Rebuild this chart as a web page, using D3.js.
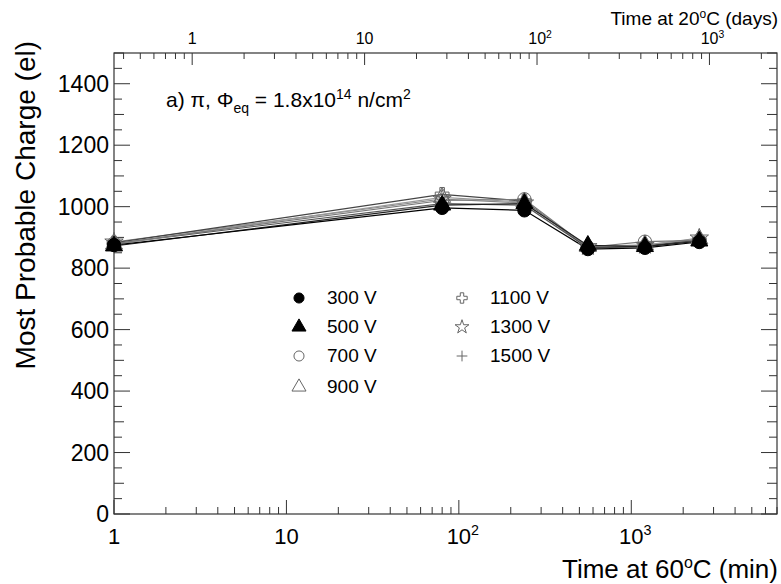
<!DOCTYPE html>
<html>
<head>
<meta charset="utf-8">
<script src="https://cdn.jsdelivr.net/npm/d3@7"></script>
<style>
  body { margin: 0; background: #fff; }
  svg { font-family: "Liberation Sans", Arial, Helvetica, sans-serif; }
</style>
</head>
<body>
<div id="chart"></div>
<script>
// annealing time at 60C (min), first point = before annealing (drawn at 1)
const times = [1, 80, 240, 560, 1200, 2480];
const voltages = ["300 V", "500 V", "700 V", "900 V", "1100 V", "1300 V", "1500 V"];
const mpv300 = [875, 996, 988, 862, 866, 885];
const mpv500 = [872, 1005, 1010, 874, 870, 888];
const mpv700 = [880, 1020, 1024, 868, 886, 890];
const mpv900 = [878, 1030, 1015, 870, 876, 895];
const mpv1100 = [882, 1040, 1018, 866, 872, 892];
const mpv1300 = [885, 1025, 1012, 870, 874, 898];
const mpv1500 = [880, 1010, 1005, 866, 870, 893];
const xDomain = [1, 7000];
const daysDomain = [0.352, 2465];
const yDomain = [0, 1500];
const yTicks = [0, 200, 400, 600, 800, 1000, 1200, 1400];

const width = 781, height = 584;
const margin = {left: 114, right: 4, top: 53, bottom: 70};

var svg = d3.select("#chart").append("svg")
  .attr("width", width).attr("height", height);

var x = d3.scaleLog().domain(xDomain).range([margin.left, width - margin.right]);
var xTop = d3.scaleLog().domain(daysDomain).range([margin.left, width - margin.right]);
var y = d3.scaleLinear().domain(yDomain).range([height - margin.bottom, margin.top]);

var x0 = margin.left, x1 = width - margin.right;
var y0 = height - margin.bottom, y1 = margin.top;

// frame
svg.append("rect")
  .attr("x", x0).attr("y", y1)
  .attr("width", x1 - x0).attr("height", y0 - y1)
  .attr("fill", "none").attr("stroke", "#333").attr("stroke-width", 1.2);

// log ticks helper
function logTicks(scale) {
  var d = scale.domain(), out = [];
  for (var e = Math.floor(Math.log10(d[0])); e <= Math.ceil(Math.log10(d[1])); e++) {
    for (var m = 1; m < 10; m++) {
      var v = m * Math.pow(10, e);
      if (v >= d[0] && v <= d[1]) out.push({v: v, major: m == 1, e: e});
    }
  }
  return out;
}

var axes = svg.append("g").attr("stroke", "#333").attr("stroke-width", 1);

// bottom axis ticks (inward)
logTicks(x).forEach(function(t) {
  axes.append("line")
    .attr("x1", x(t.v)).attr("x2", x(t.v))
    .attr("y1", y0).attr("y2", y0 - (t.major ? 14 : 7));
});
// top axis ticks (days)
logTicks(xTop).forEach(function(t) {
  axes.append("line")
    .attr("x1", xTop(t.v)).attr("x2", xTop(t.v))
    .attr("y1", y1).attr("y2", y1 + (t.major ? 12 : 6));
});
// y ticks left and right
d3.range(0, 1501, 50).forEach(function(v) {
  var len = v % 200 == 0 ? 16 : (v % 100 == 0 ? 10 : 8);
  axes.append("line").attr("x1", x0).attr("x2", x0 + len).attr("y1", y(v)).attr("y2", y(v));
  axes.append("line").attr("x1", x1).attr("x2", x1 - len).attr("y1", y(v)).attr("y2", y(v));
});

// decade label with superscript
function decadeLabel(g, px, py, e, size) {
  var t = g.append("text").attr("x", px).attr("y", py)
    .attr("text-anchor", "middle").attr("font-size", size).attr("fill", "#000");
  if (e == 0) t.text("1");
  else if (e == 1) t.text("10");
  else {
    t.append("tspan").text("10");
    t.append("tspan").attr("dy", -size * 0.4).attr("font-size", size * 0.65).text(e);
  }
}

var labels = svg.append("g");
logTicks(x).filter(function(t) { return t.major; }).forEach(function(t) {
  decadeLabel(labels, x(t.v) + (t.e > 1 ? 4 : 0), y0 + 30, t.e, 22);
});
logTicks(xTop).filter(function(t) { return t.major; }).forEach(function(t) {
  decadeLabel(labels, xTop(t.v) + (t.e > 1 ? 3 : 0), y1 - 9, t.e, 16);
});
yTicks.forEach(function(v) {
  labels.append("text")
    .attr("x", x0 - 5).attr("y", y(v)).attr("dy", "0.36em")
    .attr("text-anchor", "end").attr("font-size", 23).attr("fill", "#000")
    .text(v);
});

// axis titles
var xt = labels.append("text").attr("x", x1 + 1).attr("y", 578)
  .attr("text-anchor", "end").attr("font-size", 26).attr("fill", "#000");
xt.append("tspan").text("Time at 60");
xt.append("tspan").attr("dy", -10).attr("font-size", 16).text("o");
xt.append("tspan").attr("dy", 10).text("C (min)");

var tt = labels.append("text").attr("x", x1 + 1).attr("y", 25)
  .attr("text-anchor", "end").attr("font-size", 19).attr("fill", "#000");
tt.append("tspan").text("Time at 20");
tt.append("tspan").attr("dy", -7).attr("font-size", 12).text("o");
tt.append("tspan").attr("dy", 7).text("C (days)");

labels.append("text")
  .attr("transform", "translate(35,41) rotate(-90)")
  .attr("text-anchor", "end").attr("font-size", 28).attr("fill", "#000")
  .text("Most Probable Charge (el)");

// annotation
var an = labels.append("text").attr("x", 166).attr("y", 107)
  .attr("font-size", 21).attr("fill", "#000");
an.append("tspan").text("a) \u03c0, \u03a6");
an.append("tspan").attr("dy", 6).attr("font-size", 14).text("eq");
an.append("tspan").attr("dy", -6).text(" = 1.8x10");
an.append("tspan").attr("dy", -8).attr("font-size", 14).text("14");
an.append("tspan").attr("dy", 8).text(" n/cm");
an.append("tspan").attr("dy", -8).attr("font-size", 14).text("2");

// series
var seriesValues = [mpv300, mpv500, mpv700, mpv900, mpv1100, mpv1300, mpv1500];
var styles = [
  {sym: d3.symbolCircle, fill: "#000", stroke: "#000", line: "#000"},
  {sym: d3.symbolTriangle, fill: "#000", stroke: "#000", line: "#222"},
  {sym: d3.symbolCircle, fill: "none", stroke: "#666", line: "#777"},
  {sym: d3.symbolTriangle, fill: "none", stroke: "#666", line: "#999"},
  {sym: d3.symbolCross, fill: "none", stroke: "#666", line: "#444"},
  {sym: d3.symbolStar, fill: "none", stroke: "#666", line: "#888"},
  {sym: "plus", fill: "none", stroke: "#666", line: "#555"}
];

var series = voltages.map(function(v, i) {
  return {name: v, style: styles[i], points: times.map(function(t, j) { return {t: t, v: seriesValues[i][j]}; })};
});

var line = d3.line().x(function(d) { return x(d.t); }).y(function(d) { return y(d.v); });

function drawMarker(g, st, px, py, size) {
  if (st.sym == "plus") {
    var r = Math.sqrt(size) * 0.6;
    g.append("path")
      .attr("d", "M" + (px - r) + "," + py + "H" + (px + r) + "M" + px + "," + (py - r) + "V" + (py + r))
      .attr("stroke", st.stroke).attr("stroke-width", 1).attr("fill", "none");
  } else {
    var sz = size;
    if (st.sym == d3.symbolTriangle) sz = size * 0.9;
    if (st.sym == d3.symbolStar || st.sym == d3.symbolCross) sz = size * 0.75;
    g.append("path")
      .attr("d", d3.symbol().type(st.sym).size(sz)())
      .attr("transform", "translate(" + px + "," + py + ")")
      .attr("fill", st.fill).attr("stroke", st.stroke).attr("stroke-width", 1);
  }
}

var plot = svg.append("g");
// draw open markers first, filled ones on top
var order = [6, 5, 4, 3, 2, 1, 0];
order.forEach(function(i) {
  plot.append("path").datum(series[i].points)
    .attr("d", line).attr("fill", "none")
    .attr("stroke", series[i].style.line).attr("stroke-width", 1.2);
});
order.forEach(function(i) {
  series[i].points.forEach(function(p) {
    drawMarker(plot, series[i].style, x(p.t), y(p.v), 140);
  });
});

// legend
var legend = svg.append("g");
var legendPos = [
  [299, 298], [299, 327], [299, 356], [299, 387],
  [462, 298], [462, 327], [462, 356]
];
series.forEach(function(s, i) {
  var p = legendPos[i];
  drawMarker(legend, s.style, p[0], p[1], s.style.sym == d3.symbolTriangle ? 95 : 80);
  legend.append("text").attr("x", p[0] + 28).attr("y", p[1] - 1).attr("dy", "0.36em")
    .attr("font-size", 19).attr("fill", "#000").text(s.name);
});
</script>
</body>
</html>
